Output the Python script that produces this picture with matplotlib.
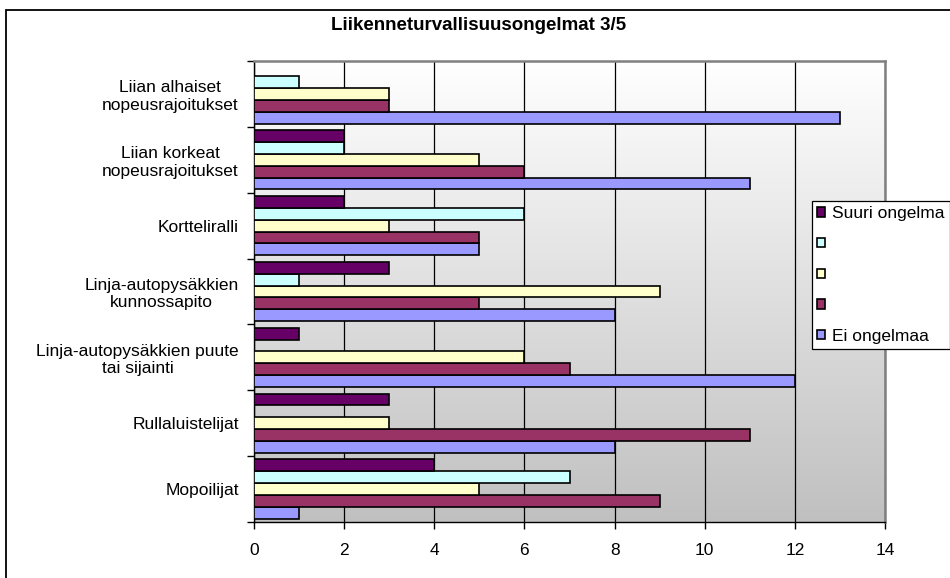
import numpy as np
import matplotlib
matplotlib.use("Agg")
import matplotlib.pyplot as plt
from matplotlib.patches import Rectangle
from matplotlib.colors import LinearSegmentedColormap

plt.rcParams['font.family'] = ['Liberation Sans', 'DejaVu Sans']

# categories from bottom to top
categories = ['Mopoilijat',
              'Rullaluistelijat',
              'Linja-autopysäkkien puute\ntai sijainti',
              'Linja-autopysäkkien\nkunnossapito',
              'Kortteliralli',
              'Liian korkeat\nnopeusrajoitukset',
              'Liian alhaiset\nnopeusrajoitukset']

# series values (same order as categories)
ei_ongelmaa = [1, 8, 12, 8, 5, 11, 13]
sarja2 = [9, 11, 7, 5, 5, 6, 3]
sarja3 = [5, 3, 6, 9, 3, 5, 3]
sarja4 = [7, 0, 0, 1, 6, 2, 1]
suuri_ongelma = [4, 3, 1, 3, 2, 2, 0]

series_names = ['Ei ongelmaa', ' ', '  ', '   ', 'Suuri ongelma']
series_values = [ei_ongelmaa, sarja2, sarja3, sarja4, suuri_ongelma]
colors = ['#9999FF', '#993366', '#FFFFCC', '#CCFFFF', '#660066']

title = 'Liikenneturvallisuusongelmat 3/5'
xticks = [0, 2, 4, 6, 8, 10, 12, 14]

fs = 12.5

fig = plt.figure(figsize=(9.5, 5.78), dpi=100)
ax = fig.add_axes([254/950, 1-522/578, (885-254)/950, (522-61)/578])

# gradient background of the plot area: white at top, gray at bottom
grad = np.linspace(0, 1, 256).reshape(-1, 1)
bg = LinearSegmentedColormap.from_list('bg', ['#c0c0c0', '#ffffff'])
ax.imshow(grad, extent=[0, 14, -0.5, 6.5], aspect='auto', origin='lower',
          cmap=bg, zorder=0)

ypos = np.arange(len(categories))
h = 0.18
handles = []
for i in range(len(series_values)):
    off = (i - 2) * h
    b = ax.barh(ypos + off, series_values[i], height=h, color=colors[i],
                edgecolor='black', linewidth=1.2, label=series_names[i], zorder=3)
    handles.append(b)

ax.set_xlim(0, 14)
ax.set_ylim(-0.5, 6.5)
ax.set_xticks(xticks)
ax.grid(axis='x', color='black', linewidth=0.9, zorder=1)

ax.set_yticks(ypos)
ax.set_yticklabels(categories, ha='right', multialignment='center')
ax.set_yticks(np.arange(-0.5, 7, 1), minor=True)
ax.tick_params(axis='y', which='major', length=0, pad=11, labelsize=fs)
ax.tick_params(axis='y', which='minor', length=5, direction='out', width=1)
ax.tick_params(axis='x', length=5, direction='out', pad=10, labelsize=fs, width=1)

for s in ['top', 'right']:
    ax.spines[s].set_color('#808080')
    ax.spines[s].set_linewidth(1.8)
for s in ['left', 'bottom']:
    ax.spines[s].set_color('black')
    ax.spines[s].set_linewidth(1)

fig.text(0.504, 1-25/578, title, ha='center', va='center', fontsize=13.5, fontweight='bold')

# legend with top series first, it runs past the right edge like the original
leg = ax.legend(handles[::-1], [series_names[i] for i in range(4, -1, -1)],
                loc='upper left', bbox_to_anchor=(812/950, 1-201/578),
                bbox_transform=fig.transFigure, frameon=True, fancybox=False,
                edgecolor='black', framealpha=1, fontsize=fs,
                handlelength=0.46, handleheight=0.46, handletextpad=0.4,
                labelspacing=0.9, borderpad=0.3, borderaxespad=0)
leg.get_frame().set_linewidth(0.9)
leg.set_zorder(10)

# outer chart frame
fig.patches.append(Rectangle((6/950, -0.1), 1.1, 1.1-10/578, transform=fig.transFigure,
                             fill=False, edgecolor='black', linewidth=1.3))

fig.savefig('out.png', dpi=100)
